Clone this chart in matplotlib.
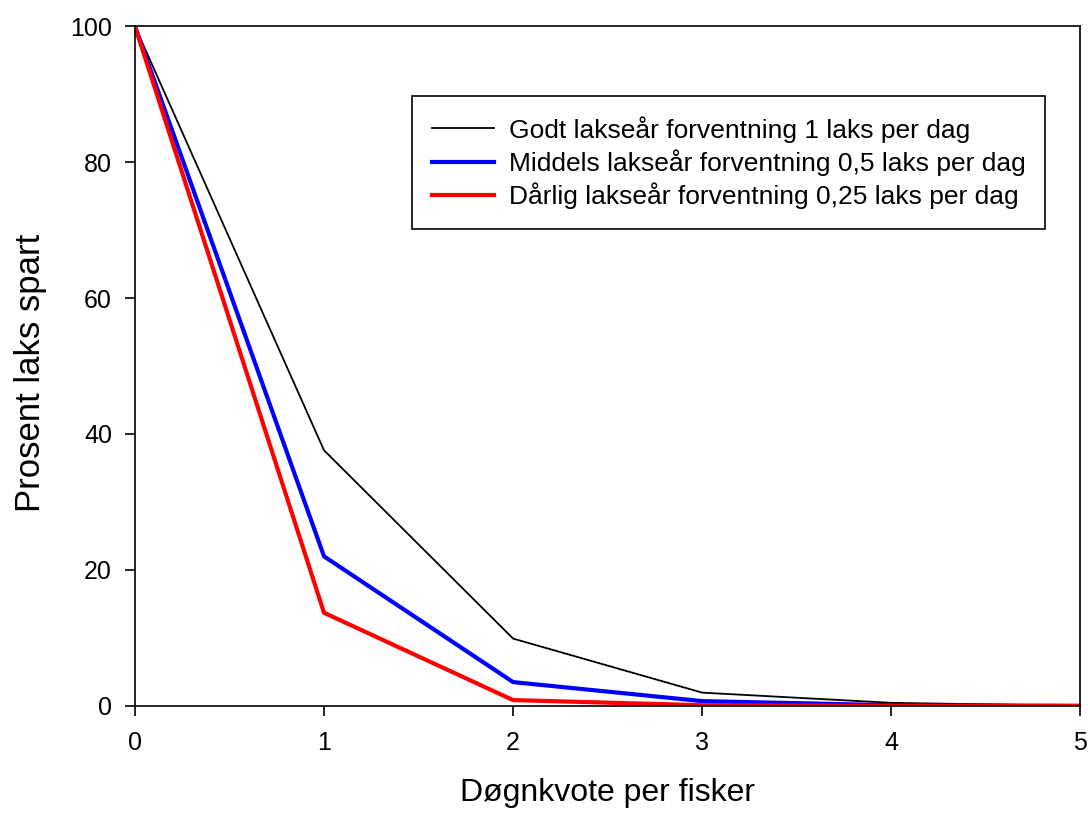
import matplotlib.pyplot as plt
import numpy as np

plt.rcParams['font.family'] = ['Liberation Sans', 'DejaVu Sans']

# data
kvote = [0, 1, 2, 3, 4, 5]
godt = [100, 37.6, 9.9, 1.95, 0.45, 0.0]
middels = [100, 22.0, 3.5, 0.7, 0.1, 0.0]
darlig = [100, 13.7, 0.85, 0.1, 0.0, 0.0]
labels = ["Godt lakseår forventning 1 laks per dag",
          "Middels lakseår forventning 0,5 laks per dag",
          "Dårlig lakseår forventning 0,25 laks per dag"]

fig = plt.figure(figsize=(10.88, 8.17), dpi=100)
ax = fig.add_axes([0.124, 0.136, 0.869, 0.832])

ax.plot(kvote, godt, color='black', lw=1.3, label=labels[0])
ax.plot(kvote, middels, color='#0000ff', lw=3, label=labels[1])
ax.plot(kvote, darlig, color='#ff0000', lw=3, label=labels[2])

ax.set_xlim(0, 5)
ax.set_ylim(0, 100)
ax.set_xticks(range(6))
ax.set_yticks(range(0, 101, 20))
ax.tick_params(labelsize=18, direction='out', length=7, width=1.2)
ax.tick_params(axis='x', pad=11)
ax.tick_params(axis='y', pad=9.5)
for s in ax.spines.values():
    s.set_linewidth(1.2)

ax.set_xlabel("Døgnkvote per fisker", fontsize=23, labelpad=17)
ax.set_ylabel("Prosent laks spart", fontsize=25)
ax.yaxis.set_label_coords(-0.093, 0.49)

leg = ax.legend(loc='upper right', bbox_to_anchor=(0.963, 0.897), fontsize=19,
                frameon=True, fancybox=False, edgecolor='black', framealpha=1,
                handlelength=2.35, handletextpad=0.57, borderpad=0.75,
                labelspacing=0.25, borderaxespad=0)
leg.get_frame().set_linewidth(1.2)

plt.savefig("out.png", dpi=100)
